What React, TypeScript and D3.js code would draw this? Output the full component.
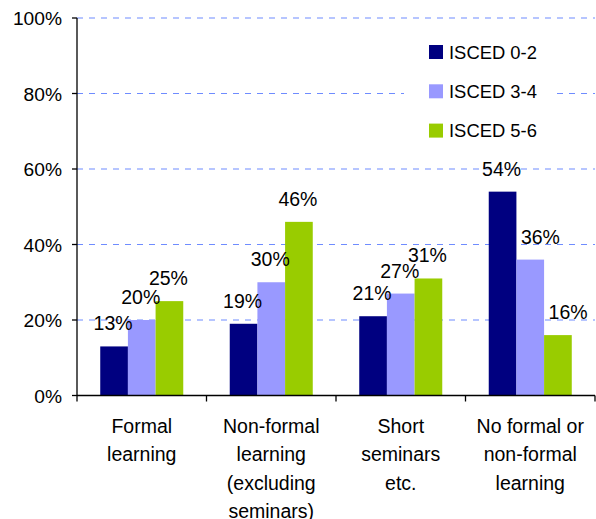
import React from "react";
import * as d3 from "d3";

const categories: string[][] = [
  ["Formal", "learning"],
  ["Non-formal", "learning", "(excluding", "seminars)"],
  ["Short", "seminars", "etc."],
  ["No formal or", "non-formal", "learning"],
];
const seriesNames = ["ISCED 0-2", "ISCED 3-4", "ISCED 5-6"];
const isced02 = [13, 19, 21, 54];
const isced34 = [20, 30, 27, 36];
const isced56 = [25, 46, 31, 16];
const yTicks = [0, 20, 40, 60, 80, 100];
const colors = ["#000080", "#9999ff", "#99cc00"];

const series = [isced02, isced34, isced56];

export default function App() {
  const W = 596, H = 519;
  const left = 77, right = 595, top = 18, bottom = 395.5;
  const font = "'Liberation Sans', Arial, sans-serif";
  const x0 = d3.scaleBand<number>().domain(d3.range(categories.length)).range([left, right]).paddingInner(0).paddingOuter(0);
  const x1 = d3.scaleBand<number>().domain(d3.range(series.length)).range([0, x0.bandwidth()]).paddingInner(0).paddingOuter(0.84);
  const y = d3.scaleLinear().domain([0, 100]).range([bottom, top]);
  const labelW = 40;

  const labelX = (si: number, ci: number) => {
    const bx = x0(ci)! + x1(si)!;
    let cx = bx + x1.bandwidth() / 2 - 1;
    if (si > 0) {
      const prev = series[si - 1][ci];
      const labelBottom = y(series[si][ci]) - 14;
      if (y(prev) < labelBottom) {
        const prevRight = bx;
        cx = Math.max(cx, prevRight + 4 + labelW / 2);
      }
    }
    return cx;
  };

  return (
    <svg width={W} height={H} style={{ position: "absolute", left: 0, top: 0, background: "#fff" }}>
      {yTicks.filter(t => t > 0).map(t => (
        <line key={"g" + t} x1={left} x2={right} y1={y(t)} y2={y(t)} stroke="#6f8cff" strokeWidth={1.2} strokeDasharray="6,6" />
      ))}
      {series.map((vals, si) =>
        vals.map((v, ci) => (
          <rect key={`b${si}-${ci}`} x={x0(ci)! + x1(si)!} y={y(v)} width={x1.bandwidth()} height={bottom - y(v)} fill={colors[si]} />
        ))
      )}
      {series.map((vals, si) =>
        vals.map((v, ci) => (
          <text key={`l${si}-${ci}`} x={labelX(si, ci)} y={y(v) - 16} textAnchor="middle" fontFamily={font} fontSize={19.5} fill="#000">
            {v}%
          </text>
        ))
      )}
      {/* legend */}
      <rect x={404} y={30} width={152} height={120} fill="#fff" />
      {seriesNames.map((n, i) => (
        <g key={n}>
          <rect x={429} y={45 + i * 39.3} width={14} height={14} fill={colors[i]} />
          <text x={449} y={58.5 + i * 39.3} fontFamily={font} fontSize={18.4} fill="#000">{n}</text>
        </g>
      ))}
      {/* axes */}
      <line x1={left} x2={left} y1={top} y2={bottom} stroke="#000" strokeWidth={1.3} />
      <line x1={left} x2={right} y1={bottom} y2={bottom} stroke="#000" strokeWidth={1.3} />
      {yTicks.map(t => (
        <g key={"t" + t}>
          <line x1={left - 5} x2={left} y1={y(t)} y2={y(t)} stroke="#000" strokeWidth={1.3} />
          <text x={62} y={y(t) + 7} textAnchor="end" fontFamily={font} fontSize={19.2} fill="#000">{t}%</text>
        </g>
      ))}
      {d3.range(categories.length + 1).map(i => {
        const xx = left + i * x0.bandwidth();
        return <line key={"c" + i} x1={xx} x2={xx} y1={bottom} y2={bottom + 6} stroke="#000" strokeWidth={1.3} />;
      })}
      {categories.map((lines, ci) => (
        <text key={"cat" + ci} textAnchor="middle" fontFamily={font} fontSize={19.5} fill="#000">
          {lines.map((ln, li) => (
            <tspan key={li} x={x0(ci)! + x0.bandwidth() / 2} y={433 + li * 28.3}>{ln}</tspan>
          ))}
        </text>
      ))}
    </svg>
  );
}
